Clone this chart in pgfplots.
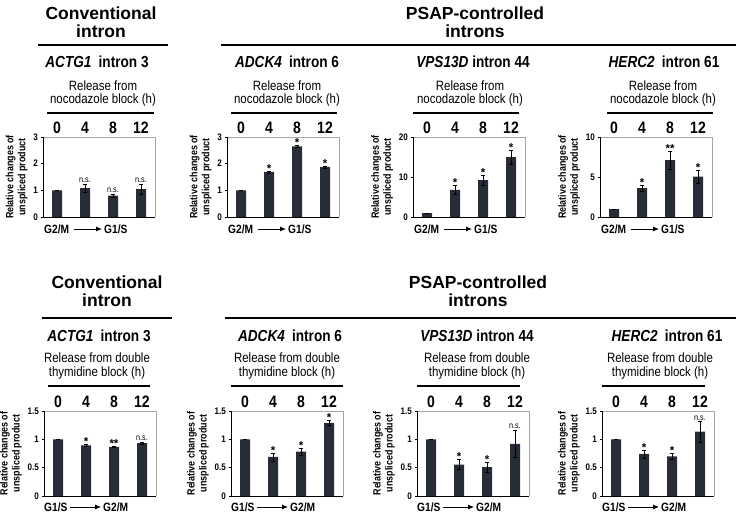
\documentclass[border=0pt]{standalone}
\usepackage{fontspec}
\setmainfont{Liberation Sans}
\newfontfamily\nar{Liberation Sans}[FakeStretch=0.85]
\usepackage{pgfplots}
\pgfplotsset{compat=1.18}
\usetikzlibrary{arrows.meta}
\definecolor{barc}{HTML}{272C37}
\newcommand\ttl{\fontsize{17.5}{19}\selectfont\bfseries}
\newcommand\gene{\nar\fontsize{16}{18}\selectfont\bfseries}
\newcommand\rel{\nar\fontsize{13.5}{13.5}\selectfont}
\newcommand\hdr{\nar\fontsize{16.5}{17}\selectfont\bfseries}
\newcommand\tck{\nar\fontsize{9.5}{10}\selectfont\bfseries}
\newcommand\ylb{\nar\fontsize{10.5}{12}\selectfont\bfseries}
\newcommand\gm{\nar\fontsize{12}{12}\selectfont\bfseries}
\newcommand\nsf{\nar\fontsize{8.5}{9}\selectfont}
\newcommand\stf{\fontsize{11.5}{11.5}\selectfont\bfseries}
\pgfplotsset{
  pan/.style={
    width=112pt, scale only axis, xmin=-0.5, xmax=3.5, ymin=0,
    axis line style={draw=none},
    xtick={0,1,2,3}, xticklabels={0,4,8,12}, xticklabel pos=upper,
    x tick label style={font=\hdr, yshift=-2pt},
    xtick style={draw=none},
    ytick pos=left, tick align=outside, major tick length=2pt,
    ytick style={black, line width=0.5pt},
    y tick label style={font=\tck, xshift=0.5pt},
    ylabel={Relative changes of\\unspliced product},
    ylabel style={font=\ylb, align=center, yshift=-1pt},
    /pgf/number format/assume math mode=true,
    ybar, bar width=10pt, clip=false, enlargelimits=false,
  },
  bars/.style={fill=barc, draw=none,
    error bars/.cd, y dir=both, y explicit,
    error bar style={draw=black, line width=0.5pt},
    error mark options={draw=black, rotate=90, mark size=2.2pt, line width=0.5pt}},
}
\newcommand\frm{%
  \draw[gray!70, line width=0.6pt] (rel axis cs:0,1) -- (rel axis cs:1,1) -- (rel axis cs:1,0);
  \draw[black, line width=0.7pt] (rel axis cs:0,1) -- (rel axis cs:0,0) -- (rel axis cs:1,0);}
\newcommand\arrT{%
  \node[font=\gm, anchor=west, inner sep=0pt] at ([shift={(1pt,-12pt)}]rel axis cs:0,0) {G2/M};
  \draw[-{Latex[length=6pt,width=5pt]}, line width=0.8pt] ([shift={(31pt,-12pt)}]rel axis cs:0,0) -- ([shift={(59pt,-12pt)}]rel axis cs:0,0);
  \node[font=\gm, anchor=west, inner sep=0pt] at ([shift={(61pt,-12pt)}]rel axis cs:0,0) {G1/S};}
\newcommand\arrB{%
  \node[font=\gm, anchor=west, inner sep=0pt] at ([shift={(0pt,-11pt)}]rel axis cs:0,0) {G1/S};
  \draw[-{Latex[length=6pt,width=5pt]}, line width=0.8pt] ([shift={(26pt,-11pt)}]rel axis cs:0,0) -- ([shift={(57pt,-11pt)}]rel axis cs:0,0);
  \node[font=\gm, anchor=west, inner sep=0pt] at ([shift={(59pt,-11pt)}]rel axis cs:0,0) {G2/M};}
\newcommand\ns[2]{\node[font=\nsf, anchor=south, inner sep=1pt] at (axis cs:#1,#2) {n.s.};}
\newcommand\st[3]{\node[font=\stf, anchor=south, inner sep=0pt, yshift=-1.5pt] at (axis cs:#1,#2) {#3};}
\begin{document}
\begin{tikzpicture}[x=1pt,y=1pt]
\path[use as bounding box] (0,0) rectangle (736,-513);
% ===== top headers =====
\node[font=\ttl] at (101,-13) {Conventional};
\node[font=\ttl] at (101,-31) {intron};
\draw[line width=1.5pt] (38,-45) -- (168,-45);
\node[font=\ttl] at (475,-13) {PSAP-controlled};
\node[font=\ttl] at (475,-31) {introns};
\draw[line width=1.5pt] (221,-45) -- (736,-45);
\node[font=\gene] at (97,-62) {\textit{ACTG1}\hspace{0.45em}intron 3};
\node[font=\gene] at (287,-62) {\textit{ADCK4}\hspace{0.45em}intron 6};
\node[font=\gene] at (473,-62) {\textit{VPS13D} intron 44};
\node[font=\gene] at (664,-62) {\textit{HERC2}\hspace{0.45em}intron 61};
\foreach \cx in {103,287,470,663} {\node[font=\rel, align=center] at (\cx,-93.5) {Release from\\nocodazole block (h)};}
\draw[line width=1.2pt] (47,-113) -- (154,-113);
\draw[line width=1.2pt] (231,-113) -- (337,-113);
\draw[line width=1.2pt] (413,-113) -- (519,-113);
\draw[line width=1.2pt] (607,-113) -- (713,-113);
% ===== bottom headers =====
\node[font=\ttl] at (107,-282) {Conventional};
\node[font=\ttl] at (107,-300) {intron};
\draw[line width=1.5pt] (42,-318) -- (172,-318);
\node[font=\ttl] at (478,-282) {PSAP-controlled};
\node[font=\ttl] at (478,-300) {introns};
\draw[line width=1.5pt] (225,-318) -- (736,-318);
\node[font=\gene] at (99,-336) {\textit{ACTG1}\hspace{0.45em}intron 3};
\node[font=\gene] at (290,-336) {\textit{ADCK4}\hspace{0.45em}intron 6};
\node[font=\gene] at (477,-336) {\textit{VPS13D} intron 44};
\node[font=\gene] at (667,-336) {\textit{HERC2}\hspace{0.45em}intron 61};
\foreach \cx in {97,287,477,660} {\node[font=\rel, align=center] at (\cx,-366) {Release from double\\thymidine block (h)};}
\draw[line width=1.2pt] (48,-386) -- (150,-386);
\draw[line width=1.2pt] (231,-386) -- (343,-386);
\draw[line width=1.2pt] (417,-386) -- (520,-386);
\draw[line width=1.2pt] (602,-386) -- (705,-386);
% ===== top axes =====
\begin{axis}[pan, at={(43pt,-217pt)}, anchor=south west, height=80pt, ymax=3, ytick={0,1,2,3}]
\addplot[bars] coordinates {(0,1) +- (0,0) (1,1.08) +- (0,0.16) (2,0.80) +- (0,0.06) (3,1.05) +- (0,0.18)};
\frm \arrT
\ns{1}{1.24}\ns{2}{0.86}\ns{3}{1.23}
\end{axis}
\begin{axis}[pan, at={(227pt,-217pt)}, anchor=south west, height=80pt, ymax=3, ytick={0,1,2,3}]
\addplot[bars] coordinates {(0,1) +- (0,0) (1,1.69) +- (0,0.04) (2,2.65) +- (0,0.03) (3,1.88) +- (0,0.04)};
\frm \arrT
\st{1}{1.73}{*}\st{2}{2.68}{*}\st{3}{1.92}{*}
\end{axis}
\begin{axis}[pan, at={(413pt,-217pt)}, anchor=south west, height=80pt, ymax=20, ytick={0,10,20}]
\addplot[bars] coordinates {(0,1) +- (0,0) (1,6.8) +- (0,1.2) (2,9.25) +- (0,1.3) (3,15.0) +- (0,1.8)};
\frm \arrT
\st{1}{8.0}{*}\st{2}{10.55}{*}\st{3}{16.8}{*}
\end{axis}
\begin{axis}[pan, at={(600pt,-217pt)}, anchor=south west, height=80pt, ymax=10, ytick={0,5,10}]
\addplot[bars] coordinates {(0,1) +- (0,0) (1,3.6) +- (0,0.4) (2,7.1) +- (0,1.1) (3,5.05) +- (0,0.85)};
\frm \arrT
\st{1}{4.0}{*}\st{2}{8.2}{**}\st{3}{5.9}{*}
\end{axis}
% ===== bottom axes =====
\begin{axis}[pan, at={(44pt,-496pt)}, anchor=south west, height=85pt, ymax=1.5, ytick={0,0.5,1,1.5}]
\addplot[bars] coordinates {(0,1) +- (0,0) (1,0.895) +- (0,0.02) (2,0.865) +- (0,0.01) (3,0.935) +- (0,0.02)};
\frm \arrB
\st{1}{0.915}{*}\st{2}{0.875}{**}\ns{3}{0.955}
\end{axis}
\begin{axis}[pan, at={(231pt,-496pt)}, anchor=south west, height=85pt, ymax=1.5, ytick={0,0.5,1,1.5}]
\addplot[bars] coordinates {(0,1) +- (0,0) (1,0.69) +- (0,0.07) (2,0.785) +- (0,0.06) (3,1.29) +- (0,0.05)};
\frm \arrB
\st{1}{0.76}{*}\st{2}{0.845}{*}\st{3}{1.34}{*}
\end{axis}
\begin{axis}[pan, at={(417pt,-496pt)}, anchor=south west, height=85pt, ymax=1.5, ytick={0,0.5,1,1.5}]
\addplot[bars] coordinates {(0,1) +- (0,0) (1,0.555) +- (0,0.09) (2,0.51) +- (0,0.09) (3,0.92) +- (0,0.24)};
\frm \arrB
\st{1}{0.645}{*}\st{2}{0.60}{*}\ns{3}{1.16}
\end{axis}
\begin{axis}[pan, at={(602pt,-496pt)}, anchor=south west, height=85pt, ymax=1.5, ytick={0,0.5,1,1.5}]
\addplot[bars] coordinates {(0,1) +- (0,0) (1,0.745) +- (0,0.07) (2,0.70) +- (0,0.05) (3,1.135) +- (0,0.18)};
\frm \arrB
\st{1}{0.815}{*}\st{2}{0.75}{*}\ns{3}{1.315}
\end{axis}
\end{tikzpicture}
\end{document}
